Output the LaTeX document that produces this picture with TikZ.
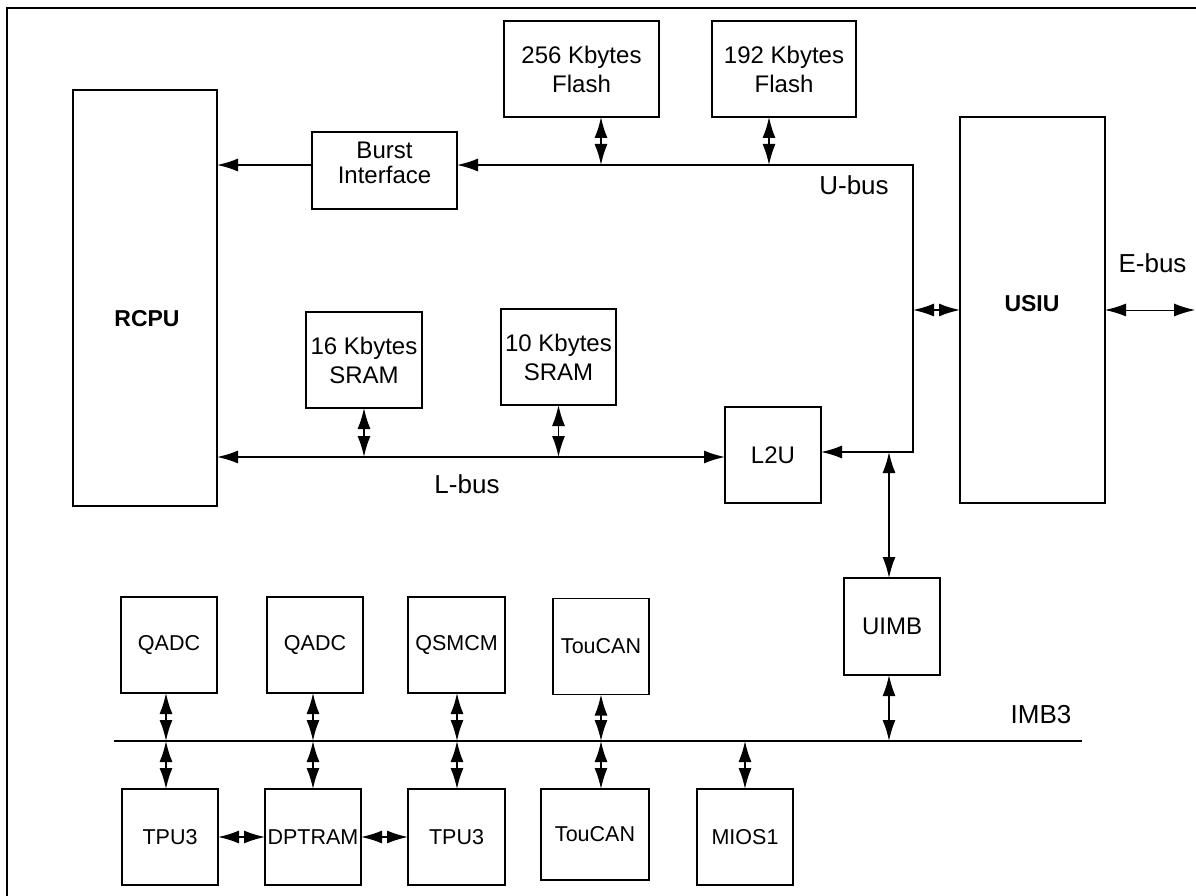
\documentclass[tikz,border=0pt]{standalone}
\usepackage{fontspec}
\setmainfont{Liberation Sans}
\usetikzlibrary{arrows.meta}
\begin{document}
\begin{tikzpicture}[x=1pt,y=-1pt,
  >={Latex[length=21pt,width=13pt]},
  box/.style={draw, line width=1.6pt, inner sep=0pt, outer sep=0pt, align=center, font=\fontsize{24}{29}\selectfont},
  sbox/.style={box, minimum width=96pt, minimum height=96pt, font=\fontsize{21.5}{26}\selectfont},
  txt/.style={inner sep=0pt, align=center, font=\fontsize{24}{25}\selectfont},
  boldlbl/.style={inner sep=0pt, font=\fontsize{23}{28}\selectfont\bfseries},
  lbl/.style={inner sep=0pt, font=\fontsize{26}{30}\selectfont},
  bus/.style={line width=1.6pt},
  dbl/.style={line width=1.6pt, <->},
  one/.style={line width=1.6pt, ->},
  thindbl/.style={line width=1pt, <->}]
\useasboundingbox (0,0) rectangle (1196,896);
\clip (0,0) rectangle (1196,896);
% outer frame (cut at right and bottom)
\draw[line width=1.6pt] (7,8) rectangle (1215,915);

% upper boxes
\node[box, minimum width=144pt, minimum height=416pt] (rcpu) at (145,298) {};
\node[boldlbl] (rcpulbl) at (147,319) {RCPU};
\node[box, minimum width=145pt, minimum height=77pt] (burst) at (384.5,170.5) {};
\node[txt] (burstlbl) at (384.5,163) {Burst\\Interface};
\node[box, minimum width=155pt, minimum height=96pt] (f256) at (581.5,69) {256 Kbytes\\Flash};
\node[box, minimum width=144pt, minimum height=96pt] (f192) at (784,69) {192 Kbytes\\Flash};
\node[box, minimum width=145pt, minimum height=386pt] (usiu) at (1032.5,310) {};
\node[boldlbl] (usiulbl) at (1032,304) {USIU};
\node[box, minimum width=116pt, minimum height=96pt] (s16) at (364,360) {16 Kbytes\\SRAM};
\node[box, minimum width=115pt, minimum height=96pt] (s10) at (558.5,357) {10 Kbytes\\SRAM};
\node[box, minimum width=96pt, minimum height=96pt] (l2u) at (773,455) {L2U};
\node[box, minimum width=96pt, minimum height=97pt] (uimb) at (892,626.5) {UIMB};

% lower boxes
\node[sbox] (qadc1) at (169,645) {QADC};
\node[sbox] (qadc2) at (315,645) {QADC};
\node[sbox, minimum width=97pt] (qsmcm) at (456.5,645) {QSMCM};
\node[sbox] (toucan1) at (601,646.5) {TouCAN};
\node[sbox] (tpua) at (170,837) {TPU3};
\node[sbox] (dptram) at (313,837) {DPTRAM};
\node[sbox, minimum width=97pt] (tpub) at (456.5,837) {TPU3};
\node[sbox, minimum width=108pt, minimum height=91pt] (toucan2) at (595,834.5) {TouCAN};
\node[sbox] (mios) at (745,837) {MIOS1};

% bus labels
\node[lbl] (ubuslbl) at (854,185) {U-bus};
\node[lbl] (ebuslbl) at (1152.5,263) {E-bus};
\node[lbl] (lbuslbl) at (467,484) {L-bus};
\node[lbl] (imblbl) at (1041,715) {IMB3};

% coordinates
\coordinate (ubusR) at (913,165);
\coordinate (ubusB) at (913,452);
\coordinate (u1) at (601,165);
\coordinate (u2) at (769,165);
\coordinate (uu) at (913,310);
\coordinate (eb) at (1195,310);
\coordinate (lb) at (0,457);
\coordinate (uj) at (889,452);
\coordinate (imbL) at (114,741);
\coordinate (imbR) at (1082,741);
\coordinate (b1) at (166,741);
\coordinate (b2) at (313,741);
\coordinate (b3) at (457,741);
\coordinate (b4) at (601,741);
\coordinate (b5) at (745,741);
\coordinate (b6) at (889,741);

% U-bus
\draw[one] (burst.west |- ubusR) -- (rcpu.east |- ubusR);
\draw[dbl] (burst.east |- ubusR) -- (ubusR) -- (ubusB) -- (l2u.east |- ubusB);
\draw[dbl] (u1 |- f256.south) -- (u1);
\draw[dbl] (u2 |- f192.south) -- (u2);
\draw[dbl] (uu) -- (usiu.west |- uu);
\draw[thindbl] (usiu.east |- eb) -- (eb);

% L-bus
\draw[dbl] (rcpu.east |- lb) -- (l2u.west |- lb);
\draw[dbl] (s16.south) -- (s16.south |- lb);
\draw[dbl] (s10.south) -- (s10.south |- lb);

% UIMB
\draw[dbl] (uj) -- (uj |- uimb.north);
\draw[dbl] (b6 |- uimb.south) -- (b6);

% IMB3
\draw[bus] (imbL) -- (imbR);
\draw[dbl] (b1 |- qadc1.south) -- (b1);
\draw[dbl] (b1) -- (b1 |- tpua.north);
\draw[dbl] (b2 |- qadc2.south) -- (b2);
\draw[dbl] (b2) -- (b2 |- dptram.north);
\draw[dbl] (b3 |- qsmcm.south) -- (b3);
\draw[dbl] (b3) -- (b3 |- tpub.north);
\draw[dbl] (b4 |- toucan1.south) -- (b4);
\draw[dbl] (b4) -- (b4 |- toucan2.north);
\draw[dbl] (b5) -- (b5 |- mios.north);

% TPU3 - DPTRAM - TPU3
\draw[dbl] (tpua.east |- dptram) -- (dptram.west);
\draw[dbl] (dptram.east) -- (tpub.west |- dptram);
\end{tikzpicture}
\end{document}
